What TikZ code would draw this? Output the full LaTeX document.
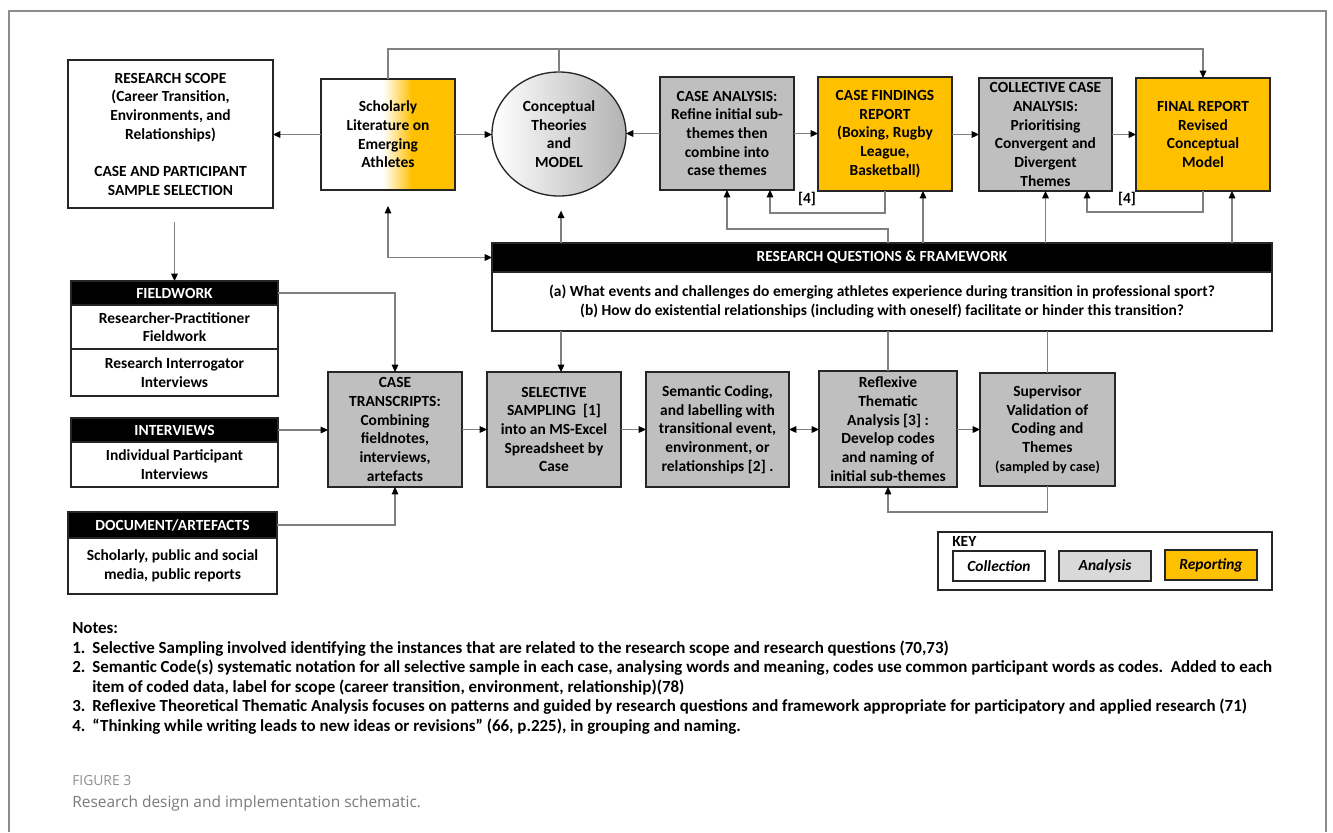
\documentclass[tikz,border=0pt]{standalone}
\usepackage{fontspec}
\setmainfont{Carlito}
\newfontfamily\capfont{Open Sans}
\usetikzlibrary{arrows.meta,shapes.geometric,calc}
\definecolor{orng}{HTML}{FFC000}
\definecolor{agray}{HTML}{BFBFBF}
\definecolor{kgray}{HTML}{D9D9D9}
\definecolor{lgray}{HTML}{808080}
\definecolor{capgray}{HTML}{7A7A7A}
% box from pixel corners (x1,y1)-(x2,y2)
\newcommand\bxn[6]{\node[#1,minimum width={(#4-#2)*0.75pt},minimum height={(#5-#3)*0.75pt}] (#6) at ({(#2+#4)/2},{(#3+#5)/2})}
\begin{document}
\begin{tikzpicture}[x=0.75pt,y=-0.75pt,
  txt/.style={font=\bfseries\fontsize{11.6}{14}\selectfont},
  box/.style={txt,draw=black!85,line width=1pt,inner sep=0pt,outer sep=0pt,align=center},
  wbox/.style={box,fill=white},
  gbox/.style={box,fill=agray},
  obox/.style={box,fill=orng},
  hbox/.style={box,fill=black,text=white},
  conn/.style={draw=lgray,line width=0.8pt},
  arr/.style={conn,-{Triangle[length=5.5pt,width=5pt,color=black]}},
  arrb/.style={conn,{Triangle[length=5.5pt,width=5pt,color=black]}-{Triangle[length=5.5pt,width=5pt,color=black]}},
  note/.style={font=\bfseries\fontsize{12.7}{15}\selectfont,anchor=base west,inner sep=0pt},
]
\useasboundingbox (0,0) rectangle (1333,832);
\fill[white] (0,0) rectangle (1333,832);
% outer frame
\draw[draw=black!45,line width=0.8pt] (9,832) -- (9,11) -- (1326,11) -- (1326,832);

% ---- top row
\bxn{wbox}{68}{60}{273}{208}{scope} {RESEARCH SCOPE\\(Career Transition,\\Environments, and\\Relationships)\\[14pt]CASE AND PARTICIPANT\\SAMPLE SELECTION};

\fill[white] (321,79) rectangle (383,190);
\shade[left color=white,right color=orng] (383,79) rectangle (412,190);
\fill[orng] (412,79) rectangle (455,190);
\bxn{box}{321}{79}{455}{190}{schol} {Scholarly\\Literature on\\Emerging\\Athletes};

\node[ellipse,draw=black!85,line width=1pt,minimum width=100.5pt,minimum height=93pt,inner sep=0pt,outer sep=0pt,
  left color=white,right color=black!30,align=center,txt] (circ) at (559,134) {Conceptual\\Theories\\and\\MODEL};

\bxn{gbox}{660}{77}{794}{190}{ca} {CASE ANALYSIS:\\Refine initial sub-\\themes then\\combine into\\case themes};
\bxn{obox}{818}{77}{952}{191}{cf} {CASE FINDINGS\\REPORT\\(Boxing, Rugby\\League,\\Basketball)};
\bxn{gbox}{979}{78}{1112}{191}{cc} {COLLECTIVE CASE\\ANALYSIS:\\Prioritising\\Convergent and\\Divergent\\Themes};
\bxn{obox}{1136}{78}{1270}{191}{fr} {FINAL REPORT\\Revised\\Conceptual\\Model};

% ---- research questions
\bxn{hbox}{492}{243}{1272}{272}{rqh} {RESEARCH QUESTIONS \& FRAMEWORK};
\bxn{wbox}{492}{272}{1272}{331}{rq} {(a) What events and challenges do emerging athletes experience during transition in professional sport?\\
(b) How do existential relationships (including with oneself) facilitate or hinder this transition?};

% ---- left collection boxes
\bxn{hbox}{71}{281}{278}{305}{fwh} {FIELDWORK};
\bxn{wbox}{71}{305}{278}{349}{fw1} {Researcher-Practitioner\\Fieldwork};
\bxn{wbox}{71}{349}{278}{396}{fw2} {Research Interrogator\\Interviews};
\bxn{hbox}{71}{418}{278}{442}{ivh} {INTERVIEWS};
\bxn{wbox}{71}{442}{278}{487}{iv1} {Individual Participant\\Interviews};
\bxn{hbox}{68}{512}{277}{538}{dch} {DOCUMENT/ARTEFACTS};
\bxn{wbox}{68}{538}{277}{594}{dc1} {Scholarly, public and social\\media, public reports};

% ---- bottom analysis row
\bxn{gbox}{328}{372}{462}{487}{ct} {CASE\\TRANSCRIPTS:\\Combining\\fieldnotes,\\interviews,\\artefacts};
\bxn{gbox}{487}{372}{621}{487}{ss} {SELECTIVE\\SAMPLING~~[1]\\into an MS-Excel\\Spreadsheet by\\Case};
\bxn{gbox}{646}{372}{789}{487}{sc} {Semantic Coding,\\and labelling with\\transitional event,\\environment, or\\relationships [2] .};
\bxn{gbox}{819}{371}{957}{487}{rf} {Reflexive\\Thematic\\Analysis [3] :\\Develop codes\\and naming of\\initial sub-themes};
\bxn{gbox}{980}{373}{1115}{486}{sv} {Supervisor\\Validation of\\Coding and\\Themes\\{\fontsize{10.6}{13}\selectfont(sampled by case)}};

% ---- key
\bxn{box}{938}{532}{1272}{590}{key} {};
\node[txt,anchor=west,inner sep=0pt] (keyl) at (952,541) {KEY};
\bxn{wbox}{953}{551}{1045}{581}{k1} {\itshape Collection};
\bxn{box,fill=kgray}{1059}{551}{1151}{581}{k2} {\itshape Analysis};
\bxn{obox}{1165}{550}{1257}{580}{k3} {\itshape Reporting};

% ---- connectors top
\draw[arr] (schol.west) -- (scope.east |- schol.west);
\draw[arr] (schol.east) -- (circ.west |- schol.east);
\draw[arr] (ca.west) -- (circ.east |- ca.west);
\draw[arr] (ca.east) -- (cf.west |- ca.east);
\draw[arr] (cf.east |- cc.west) -- (cc.west);
\draw[arr] (cc.east) -- (fr.west |- cc.east);
\draw[arr] (schol.north) |- ($(fr.north)+(0,-29)$) -- (fr.north);
\draw[conn] (circ.north) -- (circ.north |- 0,49);
\draw[arrb,shorten <=12pt] (schol.south) |- (rqh.west);
\draw[arr,shorten >=11pt] (rqh.north -| 561,0) -- (circ.south -| 561,0);
\draw[arr] (rqh.north -| 888,0) -- ++(0,-14) -| (ca.south);
\draw[arr] (rqh.north -| 923,0) -- (cf.south -| 923,0);
\draw[arr] (rqh.north -| cc.south) -- (cc.south);
\draw[arr] (rqh.north -| 1232,0) -- (fr.south -| 1232,0);
\draw[arr] (cf.south) -- ++(0,22) -| (ca.south -| 770,0);
\draw[arr] (fr.south) -- ++(0,21) -| (cc.south -| 1087,0);
\node[txt,inner sep=0pt] (l4a) at (807,199) {[4]};
\node[txt,inner sep=0pt] (l4b) at (1127,199) {[4]};

% ---- connectors left and bottom
\draw[arr,shorten <=10.5pt] (fwh.north |- scope.south) -- (fwh.north);
\draw[arr] (fwh.east) -| (ct.north);
\draw[arr] (ivh.east) -- (ct.west |- ivh.east);
\draw[arr] (dch.east) -| (ct.south);
\draw[arr] (ct.east) -- (ss.west |- ct.east);
\draw[arr] (ss.east) -- (sc.west |- ss.east);
\draw[arrb] (sc.east) -- (rf.west |- sc.east);
\draw[arr] (rf.east |- sv.west) -- (sv.west);
\draw[arr] (rq.south -| 561,0) -- (ss.north -| 561,0);
\draw[conn] (rq.south -| rf.north) -- (rf.north);
\draw[conn] (rq.south -| sv.north) -- (sv.north);
\draw[arr] (sv.south) -- ++(0,26) -| (rf.south);

% ---- notes (base lines)
\node[note] (nh) at (72,633) {Notes:};
\node[note] (n1) at (72,653) {1.};
\node[note] (t1) at (92,653) {Selective Sampling involved identifying the instances that are related to the research scope and research questions (70,73)};
\node[note] (n2) at (72,672) {2.};
\node[note] (t2) at (92,672) {Semantic Code(s) systematic notation for all selective sample in each case, analysing words and meaning, codes use common participant words as codes.\ \ Added to each};
\node[note] (t2b) at (92,692) {item of coded data, label for scope (career transition, environment, relationship)(78)};
\node[note] (n3) at (72,711) {3.};
\node[note] (t3) at (92,711) {Reflexive Theoretical Thematic Analysis focuses on patterns and guided by research questions and framework appropriate for participatory and applied research (71)};
\node[note] (n4) at (72,731) {4.};
\node[note] (t4) at (92,731) {“Thinking while writing leads to new ideas or revisions” (66, p.225), in grouping and naming.};

% ---- caption
\node[anchor=west,inner sep=0pt,text=capgray!85,font=\capfont\fontsize{10.4}{12}\selectfont] (fig) at (72,781) {FIGURE 3};
\node[anchor=west,inner sep=0pt,text=capgray,font=\capfont\fontsize{11.6}{14}\selectfont] (cap) at (72,803) {Research design and implementation schematic.};
\end{tikzpicture}
\end{document}
